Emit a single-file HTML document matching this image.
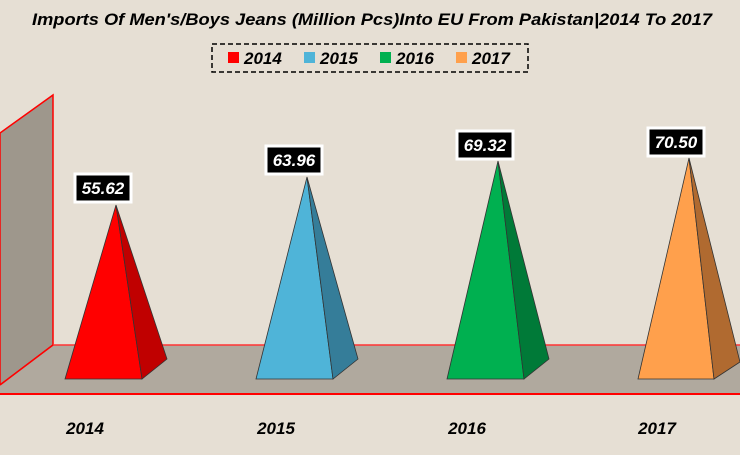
<!DOCTYPE html>
<html><head><style>
body{margin:0;width:740px;height:455px;overflow:hidden;background:#e6dfd4;font-family:"Liberation Sans",sans-serif}
</style></head><body>
<svg width="740" height="455" xmlns="http://www.w3.org/2000/svg" style="position:absolute;left:0;top:0">
<rect width="740" height="455" fill="#e6dfd4"/>
<polygon points="0,133 53,95 53,345 0,385" fill="#9e978c" stroke="#f00" stroke-width="1.5"/>
<polygon points="53,345 740,345 740,394 0,394 0,385" fill="#b0a99e"/>
<line x1="53" y1="345" x2="740" y2="345" stroke="#f33" stroke-width="1.5"/>
<line x1="0" y1="394" x2="740" y2="394" stroke="#f00" stroke-width="2"/>
<line x1="53" y1="345" x2="0" y2="385" stroke="#f00" stroke-width="1.5"/>
<g stroke="#333" stroke-width="0.8">
<polygon points="116,205 65,379 142,379" fill="#ff0000"/><polygon points="116,205 142,379 167,359" fill="#c00000"/>
<polygon points="307,177 256,379 333,379" fill="#4fb4d8"/><polygon points="307,177 333,379 358,359" fill="#357d99"/>
<polygon points="498,161 447,379 524,379" fill="#00b050"/><polygon points="498,161 524,379 549,359" fill="#007a38"/>
<polygon points="689,158 638,379 714,379" fill="#ffa04c"/><polygon points="689,158 714,379 740,362" fill="#b06a30"/>
</g>
<g font-weight="bold" font-style="italic" font-size="17" fill="#fff" text-anchor="middle">
<rect x="75" y="174" width="56" height="28" fill="#000" stroke="#fff" stroke-width="3"/><text x="103" y="194">55.62</text>
<rect x="266" y="146" width="56" height="28" fill="#000" stroke="#fff" stroke-width="3"/><text x="294" y="166">63.96</text>
<rect x="457" y="131" width="56" height="28" fill="#000" stroke="#fff" stroke-width="3"/><text x="485" y="151">69.32</text>
<rect x="648" y="128" width="56" height="28" fill="#000" stroke="#fff" stroke-width="3"/><text x="676" y="148">70.50</text>
</g>
<g font-weight="bold" font-style="italic" font-size="17" fill="#000" text-anchor="middle">
<text x="85" y="434">2014</text><text x="276" y="434">2015</text><text x="467" y="434">2016</text><text x="657" y="434">2017</text>
</g>
<text x="32" y="25" font-weight="bold" font-style="italic" font-size="17" fill="#000" textLength="680" lengthAdjust="spacingAndGlyphs">Imports Of Men's/Boys Jeans (Million Pcs)Into EU From Pakistan|2014 To 2017</text>
<rect x="212" y="44" width="316" height="28" fill="none" stroke="#000" stroke-width="1.5" stroke-dasharray="5,3"/>
<g font-weight="bold" font-style="italic" font-size="17" fill="#000">
<rect x="228" y="52" width="11" height="11" fill="#f00"/><text x="244" y="64">2014</text>
<rect x="304" y="52" width="11" height="11" fill="#4fb4d8"/><text x="320" y="64">2015</text>
<rect x="380" y="52" width="11" height="11" fill="#00b050"/><text x="396" y="64">2016</text>
<rect x="456" y="52" width="11" height="11" fill="#ffa04c"/><text x="472" y="64">2017</text>
</g>
</svg>
</body></html>
